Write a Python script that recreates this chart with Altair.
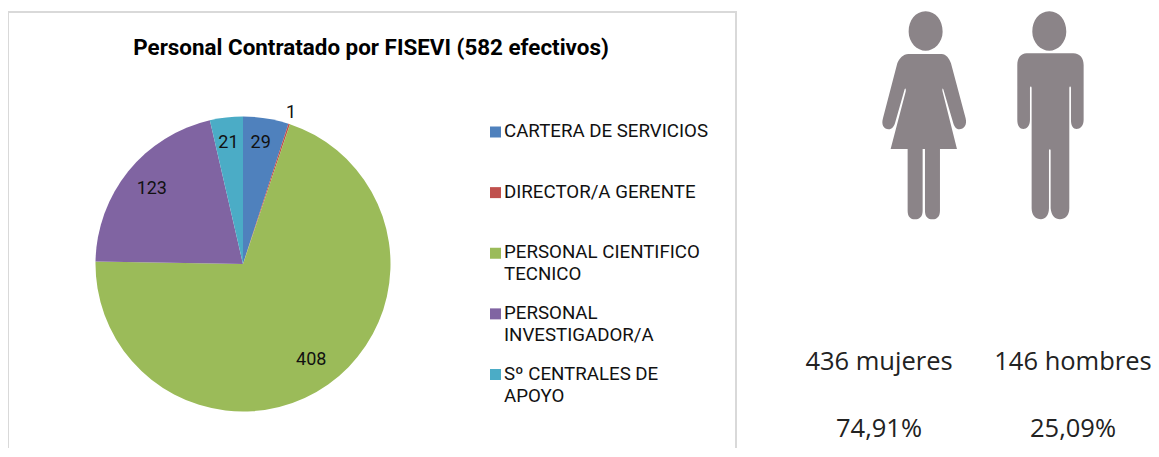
import re
import altair as alt
import pandas as pd

TITLE = "Personal Contratado por FISEVI (582 efectivos)"
categories = ["CARTERA DE SERVICIOS", "DIRECTOR/A GERENTE", "PERSONAL CIENTIFICO TECNICO",
              "PERSONAL INVESTIGADOR/A", "Sº CENTRALES DE APOYO"]
legend_labels = ["CARTERA DE SERVICIOS", "DIRECTOR/A GERENTE", "PERSONAL CIENTIFICO|TECNICO",
                 "PERSONAL|INVESTIGADOR/A", "Sº CENTRALES DE|APOYO"]
values = [29, 1, 408, 123, 21]
colors = ["#4f81bd", "#c0504d", "#9bbb59", "#8064a2", "#4bacc6"]

sexes = ["mujeres", "hombres"]
counts = [436, 146]
percents = ["74,91%", "25,09%"]

W, H = 1143, 440
GREY = "#8b8488"
FRAME = "#d9d9d9"

WOMAN = ("M197 34 C228 34 248 62 248 95 C248 128 222 152 197 152 C172 152 146 128 146 95 C146 62 166 34 197 34 Z "
         "M145 162 L245 162 C258 162 268 175 273 190 L317 355 C322 375 312 388 298 388 C288 388 283 380 280 370 "
         "L250 268 C248 262 246 268 248 275 L291 447 L240 447 L240 632 C240 650 230 658 218 658 C204 658 195 650 195 632 "
         "L195 447 L188 447 L188 632 C188 650 178 658 165 658 C152 658 143 650 143 632 L143 447 L92 447 L137 275 "
         "C139 268 136 262 134 268 L105 370 C102 380 96 388 86 388 C72 388 63 375 69 355 L112 190 C118 175 130 162 145 162 Z")
MAN = ("M568 34 C599 34 619 62 619 95 C619 128 593 152 568 152 C543 152 517 128 517 95 C517 62 537 34 568 34 Z "
       "M500 160 L640 160 C660 160 671 175 671 195 L671 360 C671 378 660 387 650 387 C640 387 633 378 633 360 L633 265 "
       "C633 258 628 258 628 265 L628 625 C628 647 615 658 600 658 C585 658 574 647 572 625 L572 452 C572 446 567 446 567 452 "
       "L567 625 C567 647 555 658 543 658 C528 658 515 647 515 625 L515 265 C515 258 510 258 510 265 L510 360 "
       "C510 378 500 387 490 387 C480 387 472 378 472 360 L472 195 C472 175 482 160 500 160 Z")


def normalise(path, cx, cy, half):
    nums = iter(re.findall(r"[A-Za-z]|-?[\d.]+", path))
    out, is_x = [], True
    for tok in nums:
        if tok.isalpha():
            out.append(tok)
            is_x = True
        else:
            v = (float(tok) - (cx if is_x else cy)) / half
            out.append(f"{v:.4f}")
            is_x = not is_x
    return " ".join(out)


woman_shape = normalise(WOMAN, 193, 346, 312)
man_shape = normalise(MAN, 571, 346, 312)

pie = pd.DataFrame({"cat": categories, "label": legend_labels, "value": values,
                    "idx": range(len(values))})
people = pd.DataFrame({"sex": sexes, "count": counts, "pct": percents,
                       "line1": [f"{c} {s}" for c, s in zip(counts, sexes)]})

color = alt.Color("cat:N", scale=alt.Scale(domain=categories, range=colors), legend=None)
CX, CY = alt.value(235), alt.value(256)

arcs = alt.Chart(pie).mark_arc(radius=147.5).encode(
    theta=alt.Theta("value:Q", stack=True), order=alt.Order("idx:Q"), color=color, x=CX, y=CY)
arc_text = (alt.Chart(pie)
            .transform_stack(stack="value", as_=["v0", "v1"], groupby=[], sort=[alt.SortField("idx")])
            .transform_calculate(mid="(datum.v0 + datum.v1) / 2",
                                 r="datum.value == 1 ? 157 : (datum.value == 123 ? 116 : 120)")
            .mark_text(font="Roboto", fontSize=18, color="#111111", dy=-2, dx=-1)
            .encode(theta=alt.Theta("mid:Q", stack=None), x=CX, y=CY,
                    radius=alt.Radius("r:Q", scale=None), text="value:Q"))

row = alt.Y("cat:N", scale=alt.Scale(type="point", domain=categories, range=[124, 366.5], padding=0), axis=None)
swatches = alt.Chart(pie).mark_square(size=121, opacity=1).encode(x=alt.value(487.5), y=row, color=color)
swatch_text = alt.Chart(pie).mark_text(font="Roboto", fontSize=18.7, align="left", baseline="top", dy=-10,
                                       lineBreak="|", lineHeight=22, color="#111111").encode(
    x=alt.value(496), y=row, text="label:N")

title = alt.Chart(pd.DataFrame({"t": [TITLE]})).mark_text(font="Roboto", fontWeight="bold", fontSize=22.4,
                                                          color="#000000").encode(
    x=alt.value(363), y=alt.value(40), text="t:N")

frame = alt.Chart(pd.DataFrame({"k": [0]})).mark_rect(fill="white", stroke=FRAME, strokeWidth=2).encode(
    x=alt.value(0), x2=alt.value(728), y=alt.value(4), y2=alt.value(470))

woman = alt.Chart(people[:1]).mark_point(shape=woman_shape, filled=True, fill=GREY, opacity=1, size=43264, strokeWidth=0).encode(
    x=alt.value(916.3), y=alt.value(107.3))
man = alt.Chart(people[1:]).mark_point(shape=man_shape, filled=True, fill=GREY, opacity=1, size=43264, strokeWidth=0).encode(
    x=alt.value(1042.3), y=alt.value(107.3))

px = alt.X("sex:N", scale=alt.Scale(type="point", domain=sexes, range=[871, 1065], padding=0), axis=None)
line1 = alt.Chart(people).mark_text(font="Open Sans", fontSize=25.5, color="#222222").encode(
    x=px, y=alt.value(354), text="line1:N")
line2 = alt.Chart(people).mark_text(font="Open Sans", fontSize=25.5, color="#222222").encode(
    x=px, y=alt.value(421), text="pct:N")

chart = (alt.layer(frame, arcs, arc_text, swatches, swatch_text, title, woman, man, line1, line2)
         .resolve_scale(x="independent", y="independent", color="shared")
         .properties(width=W, height=H, padding=0, autosize=alt.AutoSizeParams(type="none"))
         .configure_view(stroke=None))

chart.save("out.html", embed_options={"renderer": "svg", "actions": False})
